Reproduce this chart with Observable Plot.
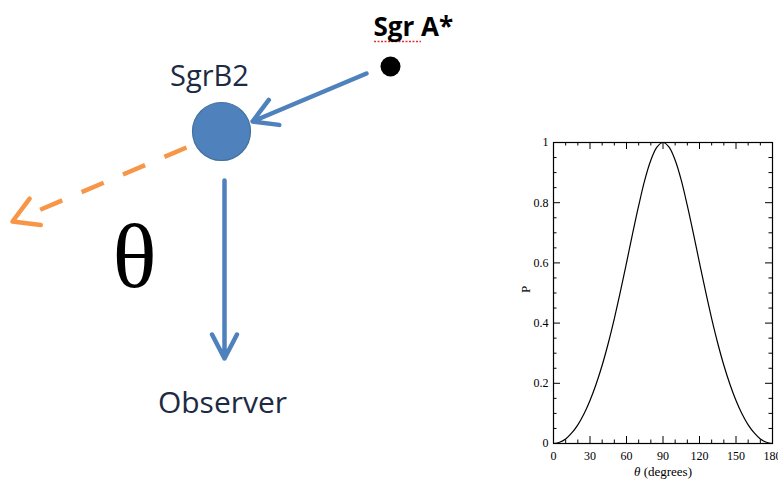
<!DOCTYPE html>
<html>
<head>
<meta charset="utf-8">
<script src="https://cdn.jsdelivr.net/npm/d3@7"></script>
<script src="https://cdn.jsdelivr.net/npm/@observablehq/plot@0.6"></script>
<style>
  html, body { margin: 0; padding: 0; background: #fff; overflow: hidden; }
  #fig { position: relative; width: 778px; height: 483px; }
  #diagram { position: absolute; left: 0; top: 0; }
  #chart { position: absolute; left: 510px; top: 120px; }
  svg { overflow: visible; }
</style>
</head>
<body>
<div id="fig"><div id="diagram"></div><div id="chart"></div></div>
<script>
// Degree of polarization P of the scattered X-rays versus scattering angle θ
const thetaDeg = [0, 5, 10, 15, 20, 25, 30, 35, 40, 45, 50, 55, 60, 65, 70, 75, 80, 85, 90,
                  95, 100, 105, 110, 115, 120, 125, 130, 135, 140, 145, 150, 155, 160, 165, 170, 175, 180];
const polarization = [0, 0.004, 0.015, 0.035, 0.062, 0.098, 0.143, 0.197, 0.260, 0.333, 0.415, 0.505, 0.600,
                      0.697, 0.790, 0.875, 0.941, 0.985, 1.000,
                      0.985, 0.941, 0.875, 0.790, 0.697, 0.600, 0.505, 0.415, 0.333, 0.260, 0.197, 0.143,
                      0.098, 0.062, 0.035, 0.015, 0.004, 0];

const xTicks = [0, 30, 60, 90, 120, 150, 180];
const xMinorTicks = [10, 20, 40, 50, 70, 80, 100, 110, 130, 140, 160, 170];
const yTicks = [0, 0.2, 0.4, 0.6, 0.8, 1];
const yMinorTicks = [0.05, 0.1, 0.15, 0.25, 0.3, 0.35, 0.45, 0.5, 0.55, 0.65, 0.7, 0.75, 0.85, 0.9, 0.95];
const xLabel = "θ (degrees)";
const yLabel = "P";

// Scattering geometry sketch: Sgr A* illuminates Sgr B2, which scatters toward the observer
const bodyNames = ["Sgr A*", "SgrB2"];
const bodyX = [390, 221];
const bodyY = [66, 131];
const incident = [{x1: 366, y1: 73, x2: 252, y2: 121}];      // Sgr A* -> SgrB2
const toObserver = [{x1: 224, y1: 180, x2: 224, y2: 358}];   // SgrB2 -> observer
const forward = [{x1: 186, y1: 147, x2: 12, y2: 221}];       // undeflected direction
const sketchLabels = [
  {text: "Sgr A*", x: 373, y: 35},
  {text: "SgrB2", x: 209, y: 85},
  {text: "Observer", x: 222, y: 412}
];
const angleLabel = [{text: "θ", x: 134, y: 286}];

const BLUE = "#4F81BD", ORANGE = "#F79646";
const sans = "'Open Sans', 'Noto Sans', sans-serif";
const serif = "'Liberation Serif', 'DejaVu Serif', serif";

// ---- sketch ----
const fwdLen = Math.hypot(forward[0].x2 - forward[0].x1, forward[0].y2 - forward[0].y1);
const sketch = Plot.plot({
  width: 500, height: 483, margin: 0,
  x: {domain: [0, 500], range: [0, 500], axis: null},
  y: {domain: [0, 483], range: [0, 483], axis: null},
  style: {background: "transparent", overflow: "visible"},
  marks: [
    // dashed shaft of the forward direction
    Plot.link(forward, {x1: "x1", y1: "y1", x2: "x2", y2: "y2", stroke: ORANGE, strokeWidth: 4.5,
      strokeDasharray: "24,21,24,21,24,21,24,200"}),
    // its head only
    Plot.arrow(forward, {x1: "x1", y1: "y1", x2: "x2", y2: "y2", stroke: ORANGE, strokeWidth: 4.5,
      headLength: 9.5, headAngle: 60, insetStart: fwdLen - 1}),
    Plot.arrow(incident, {x1: "x1", y1: "y1", x2: "x2", y2: "y2", stroke: BLUE, strokeWidth: 4.5,
      headLength: 9, headAngle: 60}),
    Plot.arrow(toObserver, {x1: "x1", y1: "y1", x2: "x2", y2: "y2", stroke: BLUE, strokeWidth: 4.5,
      headLength: 9, headAngle: 55}),
    Plot.dot([0], {x: () => bodyX[1], y: () => bodyY[1], r: 29, fill: BLUE, stroke: "#41719C", strokeWidth: 1.2}),
    Plot.dot([0], {x: () => bodyX[0], y: () => bodyY[0], r: 10, fill: "#000"}),
    // spell-check squiggle under "Sgr"
    Plot.ruleY([41], {x1: 374, x2: 421, stroke: "#e03030", strokeWidth: 1.3, strokeDasharray: "2,1.5"}),
    Plot.text(sketchLabels.slice(0, 1), {x: "x", y: "y", text: "text", textAnchor: "start", lineAnchor: "bottom",
      fontFamily: sans, fontSize: 26, fontWeight: "bold", fill: "#000"}),
    Plot.text(sketchLabels.slice(1, 2), {x: "x", y: "y", text: "text", textAnchor: "middle", lineAnchor: "bottom",
      fontFamily: sans, fontSize: 29, fill: "#1c2a44"}),
    Plot.text(sketchLabels.slice(2), {x: "x", y: "y", text: "text", textAnchor: "middle", lineAnchor: "bottom",
      fontFamily: sans, fontSize: 30, fill: "#1c2a44"}),
    Plot.text(angleLabel, {x: "x", y: "y", text: "text", textAnchor: "middle", lineAnchor: "bottom",
      fontFamily: serif, fontSize: 92, fill: "#000"})
  ]
});
document.getElementById("diagram").append(sketch);

// ---- P(θ) chart ----
const W = 268, H = 363, mL = 43, mT = 22, mR = 6, mB = 40;
const frameW = W - mL - mR, frameH = H - mT - mB;
const majorLen = 7, minorLen = 3.5;
const curve = thetaDeg.map((t, i) => ({theta: t, p: polarization[i]}));

const chart = Plot.plot({
  width: W, height: H, marginLeft: mL, marginTop: mT, marginRight: mR, marginBottom: mB,
  style: {fontFamily: serif, fontSize: "12px", background: "transparent", overflow: "visible", color: "#000"},
  x: {domain: [0, 180]},
  y: {domain: [0, 1]},
  marks: [
    Plot.axisX(xTicks, {tickSize: 0, tickPadding: 8, label: null, fontSize: 12}),
    Plot.axisY(yTicks, {tickSize: 0, tickPadding: 5, label: null, fontSize: 12, tickFormat: (d) => String(d)}),
    // inward-pointing ticks on all four sides
    Plot.ruleX(xTicks, {insetTop: frameH - majorLen, stroke: "#000"}),
    Plot.ruleX(xTicks, {insetBottom: frameH - majorLen, stroke: "#000"}),
    Plot.ruleX(xMinorTicks, {insetTop: frameH - minorLen, stroke: "#000"}),
    Plot.ruleX(xMinorTicks, {insetBottom: frameH - minorLen, stroke: "#000"}),
    Plot.ruleY(yTicks, {insetRight: frameW - majorLen, stroke: "#000"}),
    Plot.ruleY(yTicks, {insetLeft: frameW - majorLen, stroke: "#000"}),
    Plot.ruleY(yMinorTicks, {insetRight: frameW - minorLen, stroke: "#000"}),
    Plot.ruleY(yMinorTicks, {insetLeft: frameW - minorLen, stroke: "#000"}),
    Plot.frame({stroke: "#000", strokeWidth: 1.2}),
    Plot.line(curve, {x: "theta", y: "p", curve: "catmull-rom", stroke: "#000", strokeWidth: 1.2}),
    Plot.text([xLabel], {frameAnchor: "bottom", dy: 32, fontSize: 13, fill: "#000"}),
    Plot.text([yLabel], {frameAnchor: "left", dx: -28, rotate: -90, fontSize: 13, fill: "#000"})
  ]
});
// italic θ in the x label
d3.select(chart).selectAll("text").filter(function () { return this.textContent === xLabel; })
  .each(function () {
    const t = d3.select(this);
    t.text(null);
    t.append("tspan").attr("font-style", "italic").text("θ");
    t.append("tspan").text(" (degrees)");
  });
document.getElementById("chart").append(chart);
</script>
</body>
</html>
